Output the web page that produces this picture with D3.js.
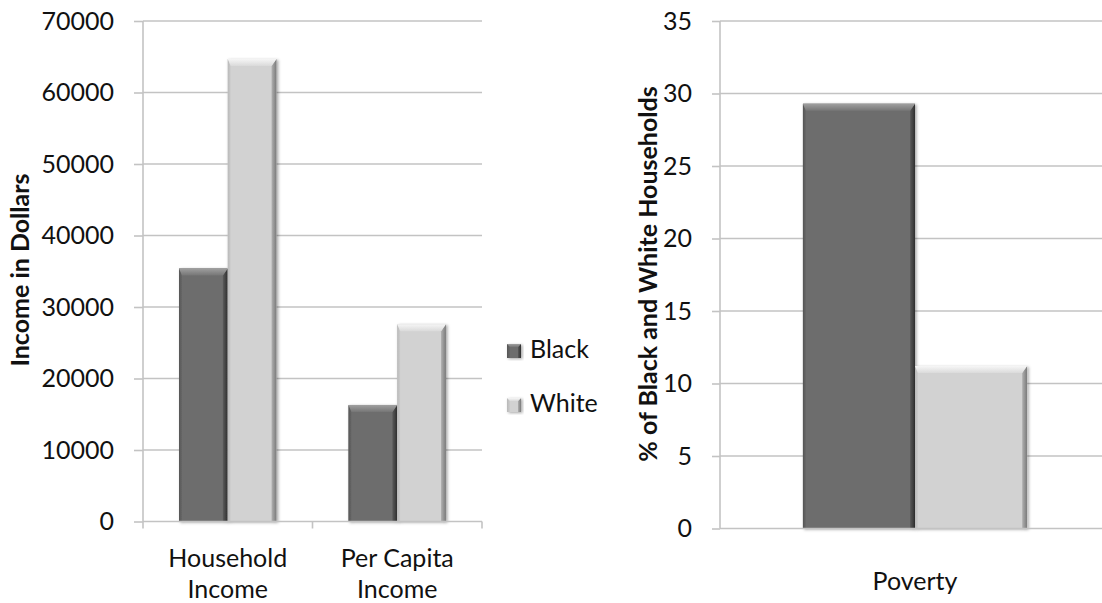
<!DOCTYPE html>
<html>
<head>
<meta charset="utf-8">
<script src="https://cdn.jsdelivr.net/npm/d3@7"></script>
<style>
  html, body { margin: 0; padding: 0; background: #fff; }
  svg { display: block; }
  text { font-family: Lato, "Open Sans", sans-serif; fill: #111; }
</style>
</head>
<body>
<svg id="chart" width="1102" height="603"></svg>
<script>
// ---- data ----
const seriesNames = ["Black", "White"];
const incomeCategories = ["Household Income", "Per Capita Income"];
const incomeBlack = [35400, 16300];
const incomeWhite = [64700, 27600];
const incomeTicks = [0, 10000, 20000, 30000, 40000, 50000, 60000, 70000];
const povertyCategories = ["Poverty"];
const povertyBlack = [29.3];
const povertyWhite = [11.2];
const povertyTicks = [0, 5, 10, 15, 20, 25, 30, 35];

// ---- styles ----
const gridColor = "#c3c3c3";
const barStyles = {
  Black: { main: "#6d6d6d", top0: "#a0a0a0", top1: "#767676", right0: "#5a5a5a", right1: "#2e2e2e", left0: "#555555", left1: "#686868" },
  White: { main: "#d2d2d2", top0: "#f6f6f6", top1: "#dadada", right0: "#b0b0b0", right1: "#7a7a7a", left0: "#b8b8b8", left1: "#cdcdcd" }
};

const svg = d3.select("#chart");
const defs = svg.append("defs");
const f = defs.append("filter").attr("id", "shadow").attr("x", "-20%").attr("y", "-20%").attr("width", "140%").attr("height", "140%");
f.append("feDropShadow").attr("dx", 1.5).attr("dy", 1).attr("stdDeviation", 1.5).attr("flood-color", "#000").attr("flood-opacity", 0.35);

function grad(id, c0, c1, vertical) {
  const g = defs.append("linearGradient").attr("id", id)
    .attr("x1", 0).attr("y1", 0).attr("x2", vertical ? 0 : 1).attr("y2", vertical ? 1 : 0);
  g.append("stop").attr("offset", "0%").attr("stop-color", c0);
  g.append("stop").attr("offset", "100%").attr("stop-color", c1);
}
seriesNames.forEach(s => {
  const st = barStyles[s];
  grad("top-" + s, st.top0, st.top1, true);
  grad("right-" + s, st.right0, st.right1, false);
  grad("left-" + s, st.left0, st.left1, false);
});

function bevelBar(g, x0, x1, yTop, yBase, s, b) {
  const st = barStyles[s];
  const grp = g.append("g").attr("filter", "url(#shadow)");
  grp.append("rect").attr("x", x0).attr("y", yTop).attr("width", x1 - x0).attr("height", yBase - yTop).attr("fill", st.main);
  const bb = Math.min(b, (x1 - x0) / 3, (yBase - yTop) / 2);
  const br = Math.max(3, bb * 0.7);
  grp.append("polygon").attr("fill", "url(#left-" + s + ")")
    .attr("points", [[x0, yTop], [x0 + 3, yTop + bb], [x0 + 3, yBase], [x0, yBase]].join(" "));
  grp.append("polygon").attr("fill", "url(#right-" + s + ")")
    .attr("points", [[x1, yTop], [x1, yBase], [x1 - br, yBase], [x1 - br, yTop + bb]].join(" "));
  grp.append("polygon").attr("fill", "url(#top-" + s + ")")
    .attr("points", [[x0, yTop], [x1, yTop], [x1 - br, yTop + bb], [x0 + 3, yTop + bb]].join(" "));
}

function panel(opts) {
  const { left, right, top, bottom, domainMax, ticks, categories, black, white, tickSize, tickPad } = opts;
  const y = d3.scaleLinear().domain([0, domainMax]).range([bottom, top]);
  const x0 = d3.scaleBand().domain(categories).range([left, right]).paddingInner(0).paddingOuter(0);
  const x1 = d3.scaleBand().domain(seriesNames).range([0, x0.bandwidth()]).paddingInner(0).paddingOuter(0.74);
  const g = svg.append("g");

  // gridlines
  g.append("g").selectAll("line").data(ticks.filter(t => t > 0)).join("line")
    .attr("x1", left).attr("x2", opts.gridRight).attr("y1", d => y(d)).attr("y2", d => y(d))
    .attr("stroke", gridColor).attr("stroke-width", 1.6);

  // y axis
  const ya = g.append("g").attr("transform", `translate(${left},0)`)
    .call(d3.axisLeft(y).tickValues(ticks).tickSize(tickSize).tickPadding(tickPad).tickFormat(d3.format("d")));
  ya.select(".domain").attr("stroke", gridColor).attr("stroke-width", 1.6).attr("d", `M0,${top}V${bottom}`);
  ya.selectAll(".tick line").attr("stroke", gridColor).attr("stroke-width", 1.6);
  ya.selectAll(".tick text").attr("font-size", 25).attr("fill", "#111").style("font-family", "Lato, sans-serif");

  // bars
  categories.forEach((c, i) => {
    const vals = { Black: black[i], White: white[i] };
    seriesNames.forEach(s => {
      const xa = x0(c) + x1(s);
      bevelBar(g, xa, xa + x1.bandwidth(), y(vals[s]), y(0), s, 7);
    });
  });

  // x axis baseline
  g.append("line").attr("x1", left).attr("x2", opts.gridRight).attr("y1", y(0)).attr("y2", y(0))
    .attr("stroke", gridColor).attr("stroke-width", 1.6);
  if (opts.catTicks) {
    const bounds = categories.map(c => x0(c)).concat([right]);
    g.append("g").selectAll("line").data(bounds).join("line")
      .attr("x1", d => d).attr("x2", d => d).attr("y1", y(0)).attr("y2", y(0) + 7)
      .attr("stroke", gridColor).attr("stroke-width", 1.6);
  }

  // category labels
  categories.forEach(c => {
    const words = c.split(" ");
    const lines = words.length > 2 ? [words.slice(0, 2).join(" "), words.slice(2).join(" ")] : (words.length === 2 ? words : [c]);
    const t = g.append("text").attr("text-anchor", "middle").attr("font-size", 25)
      .attr("x", x0(c) + x0.bandwidth() / 2).attr("y", opts.catLabelY);
    lines.forEach((l, k) => t.append("tspan").attr("x", x0(c) + x0.bandwidth() / 2).attr("dy", k === 0 ? 0 : 31).text(l));
  });

  // axis title
  g.append("text").attr("transform", `translate(${opts.titleX},${opts.titleY}) rotate(-90)`)
    .attr("text-anchor", "middle").attr("font-size", 25).attr("font-weight", "bold").text(opts.title);
  return { x0, x1, y };
}

panel({
  left: 143, right: 482, gridRight: 482, top: 21, bottom: 521.5, domainMax: 70000, ticks: incomeTicks,
  categories: incomeCategories, black: incomeBlack, white: incomeWhite, tickSize: 9, tickPad: 20,
  catTicks: true, catLabelY: 567, title: "Income in Dollars", titleX: 29, titleY: 270
});

panel({
  left: 720, right: 1110, gridRight: 1102, top: 21, bottom: 528.5, domainMax: 35, ticks: povertyTicks,
  categories: povertyCategories, black: povertyBlack, white: povertyWhite, tickSize: 8, tickPad: 20,
  catTicks: false, catLabelY: 590, title: "% of Black and White Households", titleX: 657, titleY: 274
});

// legend
const legend = svg.append("g");
seriesNames.forEach((s, i) => {
  const ly = 344 + i * 54;
  const lg = legend.append("g");
  bevelBar(lg, 507, 521, ly, ly + 14, s, 3);
  legend.append("text").attr("x", 530).attr("y", ly + 14).attr("font-size", 25).text(s);
});
</script>
</body>
</html>
